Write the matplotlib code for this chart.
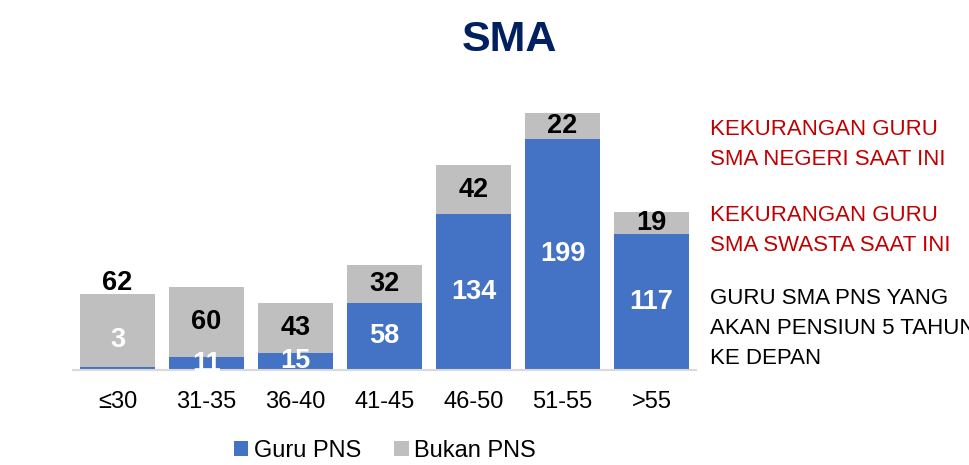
import matplotlib.pyplot as plt

#age groups and number of teachers for each group
age_groups = ['≤30', '31-35', '36-40', '41-45', '46-50', '51-55', '>55']
guru_pns = [3, 11, 15, 58, 134, 199, 117]
bukan_pns = [62, 60, 43, 32, 42, 22, 19]

#notes shown on the right side of the chart
note_negeri = 'KEKURANGAN GURU\nSMA NEGERI SAAT INI'
note_swasta = 'KEKURANGAN GURU\nSMA SWASTA SAAT INI'
note_pensiun = 'GURU SMA PNS YANG\nAKAN PENSIUN 5 TAHUN\nKE DEPAN'

plt.rcParams['font.family'] = ['Liberation Sans', 'DejaVu Sans']

#draw stacked bars with the value written on each part
def plot_stacked_bars(labels, bottom_values, top_values, title=''):
    positions = range(len(labels))

    # Create the two stacked parts
    plt.bar(positions, bottom_values, width=0.85, color='#4472C4', label='Guru PNS')
    plt.bar(positions, top_values, width=0.85, bottom=bottom_values, color='#BFBFBF', label='Bukan PNS')

    # Write the values, small blue parts get their labels moved up
    for i in positions:
        low = bottom_values[i]
        high = top_values[i]
        if low < 5:
            plt.text(i, low + high * 0.37, str(low), ha='center', va='center',
                     color='white', fontsize=19.5, fontweight='bold')
            plt.text(i, low + high + 10, str(high), ha='center', va='center',
                     color='black', fontsize=19.5, fontweight='bold')
        else:
            plt.text(i, low / 2, str(low), ha='center', va='center',
                     color='white', fontsize=19.5, fontweight='bold')
            plt.text(i, low + high / 2, str(high), ha='center', va='center',
                     color='black', fontsize=19.5, fontweight='bold')

    # Set the ticks and the axis line
    plt.xticks(positions, labels, fontsize=17)
    plt.yticks([])
    plt.tick_params(axis='x', length=0, pad=15)
    plt.xlim(-0.5, len(labels) - 0.5)
    plt.ylim(0, 240)
    ax = plt.gca()
    for side in ['top', 'right', 'left']:
        ax.spines[side].set_visible(False)
    ax.spines['bottom'].set_color('#D9D9D9')
    ax.spines['bottom'].set_linewidth(1.5)

    # Set the title of the chart
    plt.figtext(0.525, 0.915, title, ha='center', va='center',
                fontsize=31, fontweight='bold', color='#002060')

    # Legend below the bars
    plt.legend(loc='center', bbox_to_anchor=(0.397, 0.03), bbox_transform=plt.gcf().transFigure,
               ncol=2, frameon=False, fontsize=17, handlelength=0.6, handleheight=0.6,
               handletextpad=0.25, columnspacing=1.4)

plt.figure(figsize=(9.7, 4.65), dpi=100)
plt.axes([73 / 970, 95 / 465, 623 / 970, 0.6])
plot_stacked_bars(age_groups, guru_pns, bukan_pns, 'SMA')

plt.figtext(710 / 970, 1 - 119 / 465, note_negeri, ha='left', va='top',
            fontsize=16, color='#C00000', linespacing=1.55)
plt.figtext(710 / 970, 1 - 205 / 465, note_swasta, ha='left', va='top',
            fontsize=16, color='#C00000', linespacing=1.55)
plt.figtext(710 / 970, 1 - 288 / 465, note_pensiun, ha='left', va='top',
            fontsize=16, color='black', linespacing=1.55)

plt.savefig('out.png')
